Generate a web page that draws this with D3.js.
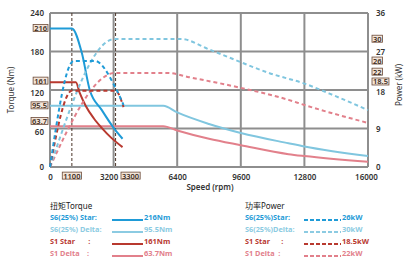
<!DOCTYPE html>
<html>
<head>
<meta charset="utf-8">
<script src="https://cdn.jsdelivr.net/npm/d3@7"></script>
<style>
  body { margin: 0; background: #fff; }
  text { font-family: "Noto Sans", "Noto Sans CJK SC", sans-serif; white-space: pre; }
</style>
</head>
<body>
<svg id="vis" width="414" height="271"></svg>
<script>
    // speed (rpm) vs torque (Nm) / power (kW)
    var s6StarTorque   = [[0,216],[1100,216],[1600,178],[2000,120],[2600,89],[3250,59],[3650,44]];
    var s6DeltaTorque  = [[0,95.5],[5700,95.5],[6400,85],[8000,67],[9600,53],[12000,37],[12800,32],[16000,17]];
    var s1StarTorque   = [[0,132],[1300,132],[1500,115],[1800,95],[2200,76],[2600,61],[3100,45],[3650,31]];
    var s1DeltaTorque  = [[0,63.7],[5700,63.7],[6400,57],[8000,44],[9600,34],[12000,20],[12800,17],[16000,8]];

    var s6StarPower  = [[0,0],[1200,24.8],[2250,24.8],[3300,18.5],[3700,14.5]];
    var s6DeltaPower = [[0,0],[3250,29.9],[6600,29.9],[8000,27.5],[9600,24.5],[11000,22],[12800,19.5],[14400,16.5],[16000,13.3]];
    var s1StarPower  = [[0,0],[1100,17.8],[3300,17.8],[3700,14]];
    var s1DeltaPower = [[0,0],[3300,22],[5900,22],[7000,21],[9600,18.5],[12000,15.7],[12800,14.5],[16000,10.3]];

    var speedTicks  = [0, 3200, 6400, 9600, 12800, 16000];
    var torqueTicks = [0, 60, 120, 180, 240];
    var powerTicks  = [0, 9, 18, 27, 36];
    var speedMarks  = [1100, 3300];
    // boxed labels: [text, value where the box sits]
    var torqueMarks = [["216",216],["161",134],["95.5",95.5],["63.7",71]];
    var powerMarks  = [["30",29.9],["26",24.8],["22",22.2],["18.5",19.9]];

    var blue = "#1f9bd7", lightBlue = "#80c6df", darkRed = "#b8392f", pink = "#e2808b";

    var torqueLegend = [["S6(25%) Star:", "216Nm", blue], ["S6(25%) Delta:", "95.5Nm", "#8ccbe2"],
                        ["S1 Star       :", "161Nm", darkRed], ["S1 Delta    :", "63.7Nm", pink]];
    var powerLegend  = [["S6(25%)Star:", "26kW", blue], ["S6(25%)Delta:", "30kW", "#8ccbe2"],
                        ["S1 Star      :", "18.5kW", darkRed], ["S1 Delta  :", "22kW", pink]];

    var svg = d3.select("#vis");
    var pLeft = 50, pRight = 368, pTop = 13, pBottom = 167;

    var x = d3.scaleLinear().domain([0, 16000]).range([pLeft, pRight]);
    var y = d3.scaleLinear().domain([0, 240]).range([pBottom, pTop]);
    var y2 = d3.scaleLinear().domain([0, 36]).range([pBottom, pTop]);

    var gridColor = "#8e8e8e";

    // grid
    svg.append("g").selectAll("line").data(torqueTicks).enter().append("line")
        .attr("x1", pLeft).attr("x2", pRight)
        .attr("y1", function(d) { return y(d); }).attr("y2", function(d) { return y(d); })
        .attr("stroke", gridColor).attr("stroke-width", 2);
    svg.append("g").selectAll("line").data(speedTicks).enter().append("line")
        .attr("y1", pTop).attr("y2", pBottom)
        .attr("x1", function(d) { return x(d); }).attr("x2", function(d) { return x(d); })
        .attr("stroke", gridColor).attr("stroke-width", 2);

    // speed markers
    svg.append("g").selectAll("line").data(speedMarks).enter().append("line")
        .attr("y1", pTop).attr("y2", pBottom)
        .attr("x1", function(d) { return x(d); }).attr("x2", function(d) { return x(d); })
        .attr("stroke", "#4a3428").attr("stroke-width", 1).attr("stroke-dasharray", "3,2");

    // axes
    var axisFont = function(g) {
        g.select(".domain").remove();
        g.selectAll(".tick line").remove();
        g.selectAll("text").attr("fill", "#333").attr("font-size", 8).attr("font-weight", 600);
    };
    var ya = svg.append("g").attr("transform", "translate(" + (pLeft - 3) + ",0)")
        .call(d3.axisLeft(y).tickValues(torqueTicks).tickSize(0)).call(axisFont);
    var ya2 = svg.append("g").attr("transform", "translate(" + (pRight + 5) + ",0)")
        .call(d3.axisRight(y2).tickValues(powerTicks).tickSize(0)).call(axisFont);
    var xa = svg.append("g").attr("transform", "translate(0," + (pBottom + 4) + ")")
        .call(d3.axisBottom(x).tickValues(speedTicks).tickSize(0).tickFormat(d3.format("d"))).call(axisFont);
    xa.selectAll(".tick text").attr("dx", function(d) { return d === 3200 ? -5 : (d === 16000 ? -2 : 0); });
    ya.selectAll(".tick text").attr("dy", function(d) { return (d === 60 || d === 120) ? "0.7em" : "0.32em"; });
    ya2.selectAll(".tick text").attr("dy", function(d) { return d === 18 ? "0.55em" : "0.32em"; });
    [ya, ya2, xa].forEach(function(g) { g.attr("font-family", null); });

    var boxes = svg.append("g");
    function box(tx, ty, label, anchor) {
        var r = boxes.append("rect");
        var t = boxes.append("text").attr("x", tx).attr("y", ty).attr("dy", "0.35em")
            .attr("text-anchor", anchor).attr("font-size", 7.5).attr("font-weight", 600)
            .attr("fill", "#3a2a20").text(label);
        var b = t.node().getBBox();
        r.attr("x", b.x - 1).attr("y", b.y + 1.5)
            .attr("width", b.width + 2).attr("height", b.height - 3)
            .attr("fill", "#f3e4d8").attr("stroke", "#6b4a38").attr("stroke-width", 0.8);
    }
    torqueMarks.forEach(function(m) { box(pLeft - 3, y(m[1]), m[0], "end"); });
    powerMarks.forEach(function(m) { box(pRight + 5, y2(m[1]), m[0], "start"); });
    box(x(1100), pBottom + 9, "1100", "middle");
    box(x(3300) + 15, pBottom + 9, "3300", "middle");

    // axis titles
    svg.append("text").attr("transform", "translate(14,90) rotate(-90)")
        .attr("text-anchor", "middle").attr("font-size", 8).attr("fill", "#333").text("Torque (Nm)");
    svg.append("text").attr("transform", "translate(402,85) rotate(-90)")
        .attr("text-anchor", "middle").attr("font-size", 8).attr("fill", "#333").text("Power (kW)");
    svg.append("text").attr("x", 210).attr("y", 190).attr("text-anchor", "middle")
        .attr("font-size", 8).attr("font-weight", 600).attr("fill", "#333").text("Speed (rpm)");

    // curves
    var torqueLine = d3.line().x(function(d) { return x(d[0]); }).y(function(d) { return y(d[1]); })
        .curve(d3.curveMonotoneX);
    var powerLine = d3.line().x(function(d) { return x(d[0]); }).y(function(d) { return y2(d[1]); })
        .curve(d3.curveMonotoneX);

    var solid = [[s1DeltaTorque, pink], [s6DeltaTorque, lightBlue], [s1StarTorque, darkRed], [s6StarTorque, blue]];
    solid.forEach(function(s) {
        svg.append("path").datum(s[0]).attr("d", torqueLine)
            .attr("fill", "none").attr("stroke", s[1]).attr("stroke-width", 2);
    });
    var dotted = [[s1DeltaPower, pink], [s6DeltaPower, lightBlue], [s1StarPower, darkRed], [s6StarPower, blue]];
    dotted.forEach(function(s) {
        svg.append("path").datum(s[0]).attr("d", powerLine)
            .attr("fill", "none").attr("stroke", s[1]).attr("stroke-width", 2)
            .attr("stroke-dasharray", "4,3");
    });

    // legends
    function legend(lx, title, rows, dash, lineX, unitX) {
        svg.append("text").attr("x", lx).attr("y", 209).attr("font-size", 8)
            .attr("fill", "#222").text(title);
        rows.forEach(function(r, i) {
            var ry = 220 + i * 12;
            svg.append("text").attr("x", lx).attr("y", ry).attr("font-size", 7.3)
                .attr("font-weight", 700).attr("fill", r[2]).text(r[0]);
            svg.append("line").attr("x1", lineX).attr("x2", unitX - 1)
                .attr("y1", ry).attr("y2", ry).attr("stroke", r[2]).attr("stroke-width", 2)
                .attr("stroke-dasharray", dash);
            svg.append("text").attr("x", unitX).attr("y", ry).attr("font-size", 7.5)
                .attr("font-weight", 700).attr("fill", r[2]).text(r[1]);
        });
    }
    legend(50, "扭矩Torque", torqueLegend, null, 112, 144);
    legend(245, "功率Power", powerLegend, "4,2", 304, 342);
</script>
</body>
</html>
